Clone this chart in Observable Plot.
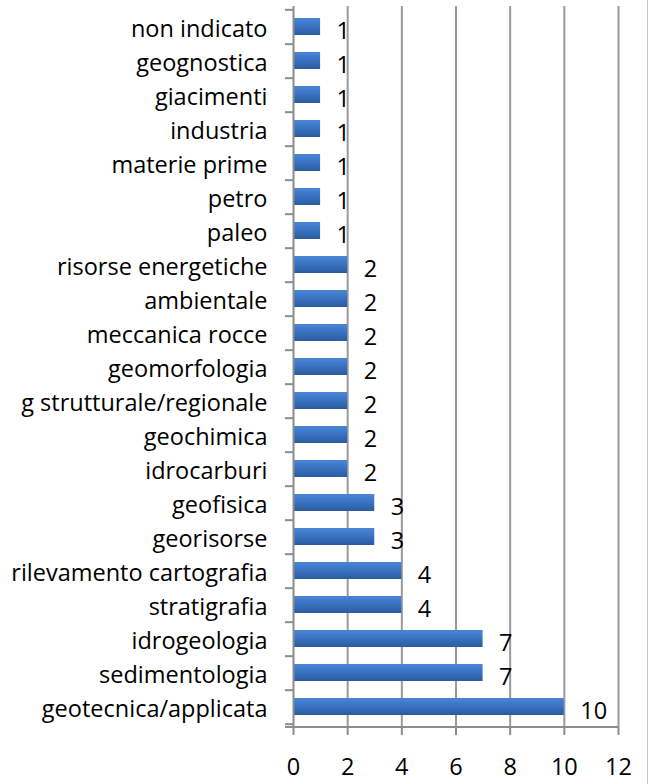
<!DOCTYPE html>
<html>
<head>
<meta charset="utf-8">
<script src="https://cdn.jsdelivr.net/npm/d3@7"></script>
<script src="https://cdn.jsdelivr.net/npm/@observablehq/plot@0.6"></script>
<style>
  html, body { margin: 0; padding: 0; background: #fff; }
  #chart { width: 648px; height: 784px; position: relative; overflow: hidden; }
  #chart svg { display: block; }
  .edge { position: absolute; right: 0; top: 0; width: 1px; height: 784px; background: #c8c8c8; }
</style>
</head>
<body>
<div id="chart"></div>
<script>
const categories = [
  "non indicato", "geognostica", "giacimenti", "industria", "materie prime", "petro", "paleo",
  "risorse energetiche", "ambientale", "meccanica rocce", "geomorfologia", "g strutturale/regionale",
  "geochimica", "idrocarburi", "geofisica", "georisorse", "rilevamento cartografia", "stratigrafia",
  "idrogeologia", "sedimentologia", "geotecnica/applicata"
];
const values = [1, 1, 1, 1, 1, 1, 1, 2, 2, 2, 2, 2, 2, 2, 3, 3, 4, 4, 7, 7, 10];
const xTicks = [0, 2, 4, 6, 8, 10, 12];
const gridTicks = [2, 4, 6, 8, 10, 12];

const data = categories.map((c, i) => ({category: c, value: values[i]}));

const W = 648, H = 784, mt = 6, mb = 57;
const step = (H - mt - mb) / categories.length;
const axisGray = "#8c8c8c";
const font = "'Open Sans', 'Liberation Sans', sans-serif";
const fs = 23.5;

const plot = Plot.plot({
  width: W,
  height: H,
  marginLeft: 293,
  marginRight: 30,
  marginTop: mt,
  marginBottom: mb,
  style: {fontFamily: font, fontSize: fs + "px", color: "#000", background: "#fff", overflow: "visible"},
  x: {domain: [0, 12], ticks: xTicks, label: null},
  y: {domain: categories, paddingInner: 0.5, paddingOuter: 0.25, label: null},
  marks: [
    Plot.ruleX(gridTicks, {stroke: "#9a9a9a", strokeWidth: 2}),
    Plot.barX(data, {
      x: "value", y: "category",
      fill: "url(#barGrad)",
      style: "filter: drop-shadow(2px 4px 2px rgba(0,0,0,0.25))"
    }),
    Plot.text(data, {
      x: "value", y: "category", text: d => String(d.value),
      textAnchor: "start", dx: 16, dy: 4, fontSize: fs, fill: "#000"
    }),
    Plot.ruleX([0], {stroke: axisGray, strokeWidth: 2}),
    Plot.axisY({tickSize: 0, tickPadding: 26, dy: 2, fontSize: fs, fill: "#000", label: null}),
    Plot.axisY({tickSize: 8, tickFormat: () => "", stroke: axisGray, strokeWidth: 2, dy: step / 2, label: null}),
    Plot.axisY({ticks: [categories[0]], tickSize: 8, tickFormat: () => "", stroke: axisGray, strokeWidth: 2, dy: -step / 2, label: null}),
    Plot.axisX({ticks: xTicks, tickSize: 8, tickPadding: 23, fontSize: fs, stroke: axisGray, strokeWidth: 2, fill: "#000", label: null})
  ]
});

const svg = d3.select(plot);

// bottom axis line from the plot's own x scale
const xs = plot.scale("x");
const yBottom = H - mb;
svg.append("line")
  .attr("x1", xs.apply(0) - 8).attr("x2", xs.apply(12))
  .attr("y1", yBottom).attr("y2", yBottom)
  .attr("stroke", axisGray).attr("stroke-width", 2);

// gradient for the bars
const defs = svg.insert("defs", ":first-child");
const g = defs.append("linearGradient").attr("id", "barGrad").attr("x1", 0).attr("y1", 0).attr("x2", 0).attr("y2", 1);
g.append("stop").attr("offset", "0%").attr("stop-color", "#4a86d6");
g.append("stop").attr("offset", "45%").attr("stop-color", "#3a74c4");
g.append("stop").attr("offset", "100%").attr("stop-color", "#2b5b9e");

const chart = document.getElementById("chart");
chart.appendChild(plot);
const edge = document.createElement("div");
edge.className = "edge";
chart.appendChild(edge);
</script>
</body>
</html>
